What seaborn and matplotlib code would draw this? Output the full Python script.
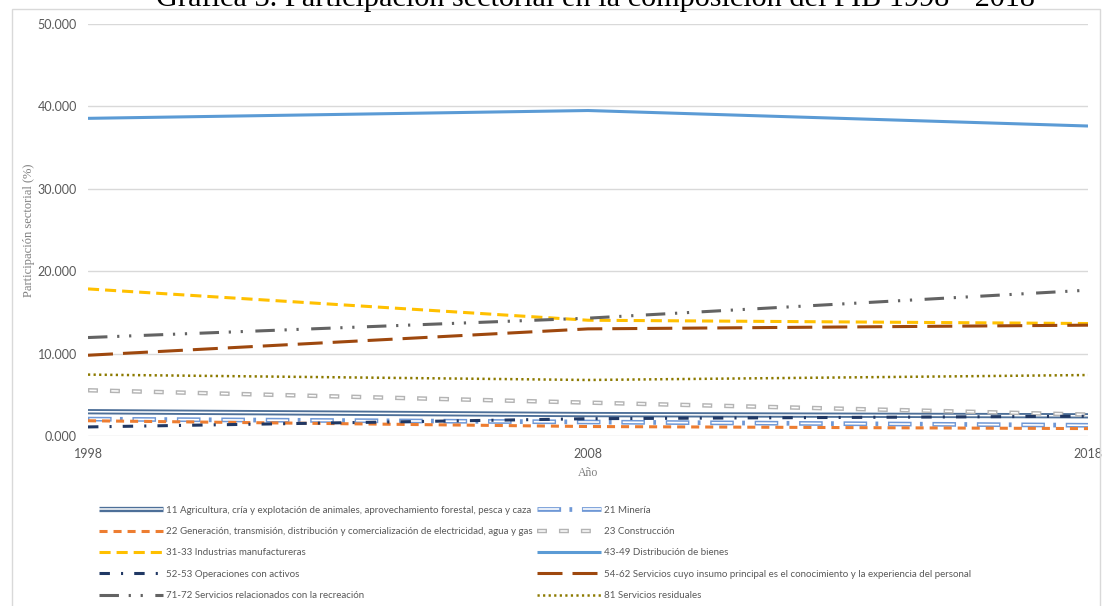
import numpy as np
import pandas as pd
import seaborn as sns
import matplotlib.pyplot as plt
from matplotlib.lines import Line2D
from matplotlib.patches import Rectangle
from matplotlib.legend_handler import HandlerTuple
from matplotlib import font_manager

### Data ###

years = [1998, 2008, 2018]

agricultura = [2.95, 2.60, 2.45]
mineria = [2.05, 1.70, 1.30]
generacion = [1.85, 1.15, 0.90]
construccion = [5.55, 4.05, 2.60]
industrias = [17.85, 14.05, 13.65]
distribucion = [38.55, 39.50, 37.62]
operaciones = [1.10, 2.10, 2.40]
conocimiento = [9.80, 13.00, 13.45]
recreacion = [11.95, 14.30, 17.70]
residuales = [7.45, 6.80, 7.40]

labels = [
    "11 Agricultura, cría y explotación de animales, aprovechamiento forestal, pesca y caza",
    "21 Minería",
    "22 Generación, transmisión, distribución y comercialización de electricidad, agua y gas",
    "23 Construcción",
    "31-33 Industrias manufactureras",
    "43-49 Distribución de bienes",
    "52-53 Operaciones con activos",
    "54-62 Servicios cuyo insumo principal es el conocimiento y la experiencia del personal",
    "71-72 Servicios relacionados con la recreación",
    "81 Servicios residuales",
]
series = [agricultura, mineria, generacion, construccion, industrias,
          distribucion, operaciones, conocimiento, recreacion, residuales]

### Styles ###

sns.set_theme(style="white")
plt.rcParams["lines.scale_dashes"] = False
avail = {f.name for f in font_manager.fontManager.ttflist}
sans = "Liberation Sans Narrow" if "Liberation Sans Narrow" in avail else "Lato"
serif = "Liberation Serif"
plt.rcParams["font.family"] = [sans, "DejaVu Sans"]

# (color, linewidth, linestyle, inner white line or None)
styles = [
    ("#4d6f98", 3.8, "-", (1.1, "-")),
    ("#6f98d6", 3.4, (0, (17, 6, 2, 7)), (1.2, (31, (15, 17)))),
    ("#ed7d31", 2.2, (0, (5.8, 4.3)), None),
    ("#b4b4b4", 3.2, (0, (7.2, 8.6)), (1.1, (14.8, (5.2, 10.6)))),
    ("#ffc000", 2.2, (0, (8, 4.3)), None),
    ("#5b9bd5", 2.2, "-", None),
    ("#203864", 2.2, (0, (7.5, 8, 1.5, 8)), None),
    ("#9e480e", 2.2, (0, (18, 7.2)), None),
    ("#636363", 2.2, (0, (14, 7, 1.6, 7, 1.6, 9)), None),
    ("#8c7a00", 1.8, (0, (1.6, 2.4)), None),
]

df = pd.DataFrame({"year": years})
for lab, vals in zip(labels, series):
    df[lab] = vals

### Figure ###

fig = plt.figure(figsize=(11.03, 6.06), dpi=100)
ax = fig.add_axes([88 / 1103, 1 - 436 / 606, 1000 / 1103, 412 / 606])

handles = []
for lab, (col, lw, ls, inner) in zip(labels, styles):
    sns.lineplot(data=df, x="year", y=lab, ax=ax, color=col, linewidth=lw,
                 linestyle=ls, errorbar=None, solid_capstyle="butt",
                 dash_capstyle="butt", zorder=3)
    h = Line2D([], [], color=col, linewidth=lw, linestyle=ls,
               solid_capstyle="butt", dash_capstyle="butt")
    if inner is not None:
        ilw, ils = inner
        sns.lineplot(data=df, x="year", y=lab, ax=ax, color="white",
                     linewidth=ilw, linestyle=ils, errorbar=None,
                     solid_capstyle="butt", dash_capstyle="butt", zorder=3)
        h = (h, Line2D([], [], color="white", linewidth=ilw, linestyle=ils,
                       solid_capstyle="butt", dash_capstyle="butt"))
    handles.append(h)

ax.set_xlim(1998, 2018)
ax.set_ylim(0, 50)
ax.set_xticks([1998, 2008, 2018])
ax.set_yticks(np.arange(0, 51, 10))
ax.set_yticklabels([f"{v:.3f}" for v in np.arange(0, 51, 10)])
ax.tick_params(axis="both", length=0, labelsize=9, labelcolor="#595959")
ax.tick_params(axis="x", pad=9)
ax.tick_params(axis="y", pad=8)
ax.grid(axis="y", color="#d9d9d9", linewidth=1.0)
ax.set_axisbelow(True)
for s in ax.spines.values():
    s.set_visible(False)

ax.set_xlabel("Año", family=serif, fontsize=8.5, color="#7f7f7f", labelpad=5)
ax.set_ylabel("Participación sectorial (%)", family=serif, fontsize=9,
              color="#7f7f7f", labelpad=2)

# Excel fills the legend row by row, matplotlib column by column
order = [0, 2, 4, 6, 8, 1, 3, 5, 7, 9]
leg = fig.legend([handles[i] for i in order], [labels[i] for i in order],
                 loc="upper left", bbox_to_anchor=(90 / 1103, 1 - 497 / 606),
                 ncol=2, frameon=False, fontsize=7, handlelength=6.6,
                 handletextpad=0.35, columnspacing=0.4, labelspacing=1.27,
                 handler_map={tuple: HandlerTuple(ndivide=1)})
for t in leg.get_texts():
    t.set_color("#595959")

# outer chart frame and clipped title
fig.patches.append(Rectangle((12 / 1103, -0.05), 1088 / 1103, 1.05 - 9 / 606,
                             transform=fig.transFigure, fill=False,
                             edgecolor="#d9d9d9", linewidth=1.0))
fig.text(595 / 1103, 1 - 6 / 606,
         "Gráfica 3. Participación sectorial en la composición del PIB 1998 - 2018",
         ha="center", va="baseline", family=serif, fontsize=21.8, color="#000000")

fig.savefig("out.png", dpi=100)
